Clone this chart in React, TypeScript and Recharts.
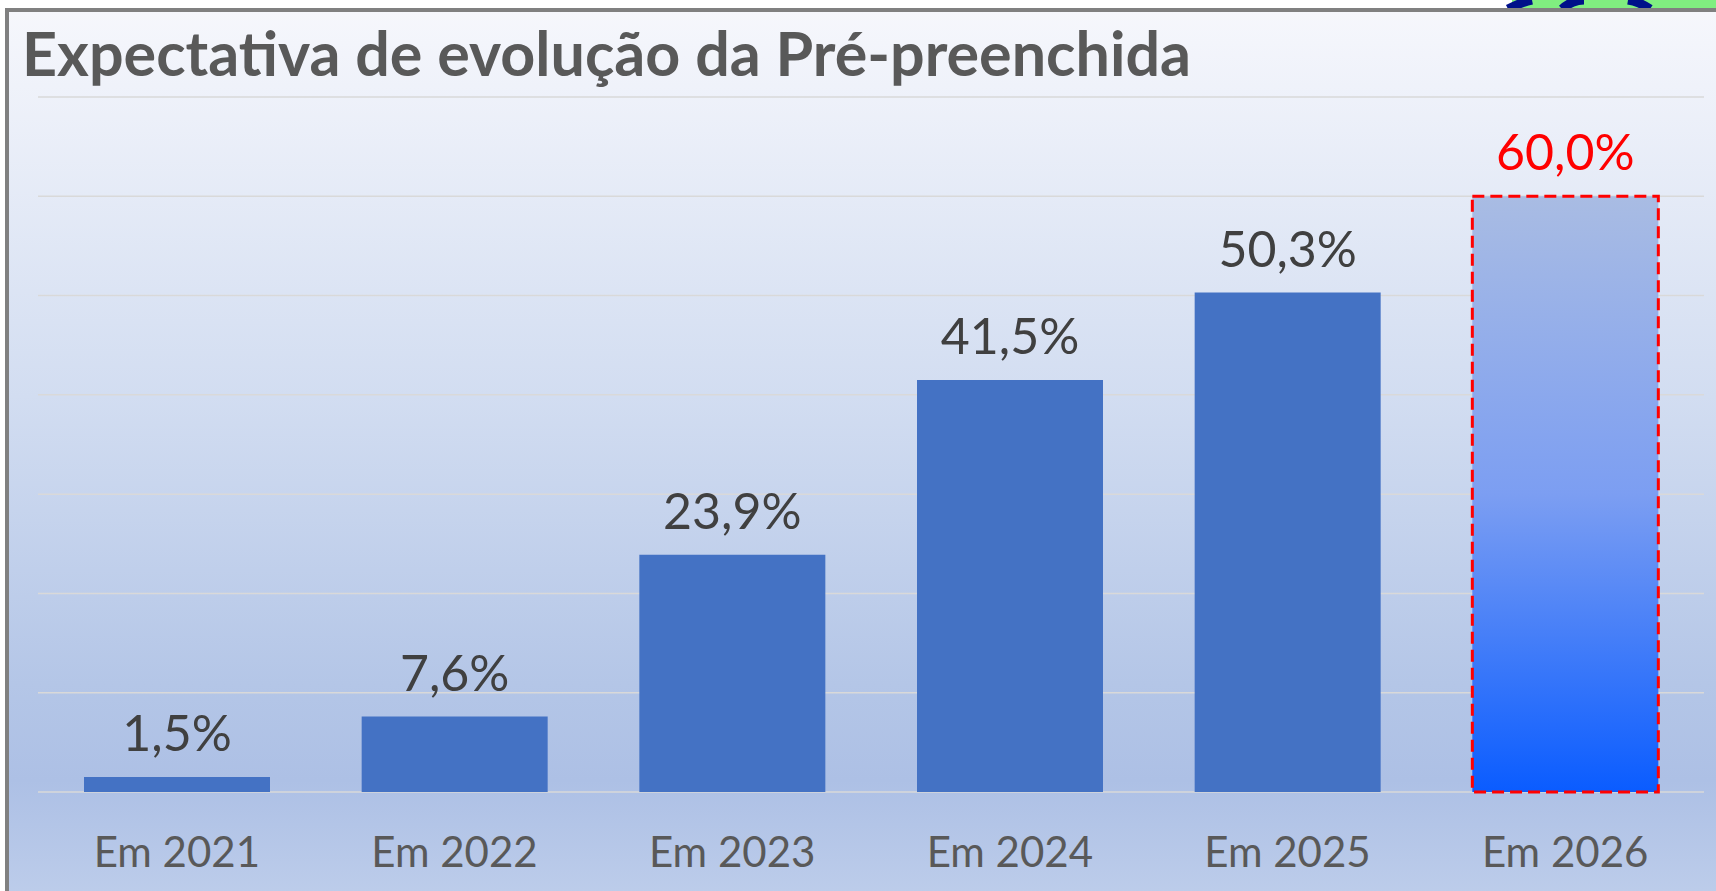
import React from "react"
import { Bar, BarChart, CartesianGrid, Cell, LabelList, XAxis, YAxis } from "recharts"

const categories = ["Em 2021", "Em 2022", "Em 2023", "Em 2024", "Em 2025", "Em 2026"]
const values = [1.5, 7.6, 23.9, 41.5, 50.3, 60.0]
const yTicks = [0, 10, 20, 30, 40, 50, 60, 70]

const data = categories.map((name, i) => ({ name, value: values[i] }))

const fmt = (v: number) => v.toFixed(1).replace(".", ",") + "%"

const FONT = "Lato, 'Open Sans', sans-serif"

function CategoryTick(props: any) {
  const { x, y, payload } = props
  return (
    <text x={x} y={y + 67} textAnchor="middle" fill="#595959" fontSize={42} fontFamily={FONT}>
      {payload.value}
    </text>
  )
}

function ValueLabel(props: any) {
  const { x, y, width, value, index } = props
  const last = index === values.length - 1
  return (
    <text
      x={x + width / 2}
      y={y - 26}
      textAnchor="middle"
      fill={last ? "#ff0000" : "#404040"}
      fontSize={50}
      fontFamily={FONT}
    >
      {fmt(value)}
    </text>
  )
}

export default function App() {
  return (
    <div style={{ position: "absolute", left: 0, top: 0, width: 1716, height: 891, overflow: "hidden", background: "#fff" }}>
      {/* logo fragment at the top */}
      <svg width={1716} height={12} style={{ position: "absolute", left: 0, top: 0 }}>
        <rect x={1512} y={0} width={204} height={9} fill="#80ee80" />
        <path d="M1508 9 Q1522 2 1532 0" stroke="#00108a" strokeWidth={9} fill="none" />
        <path d="M1562 9 Q1572 0 1584 0" stroke="#00108a" strokeWidth={9} fill="none" />
        <path d="M1628 0 Q1640 2 1650 9" stroke="#00108a" strokeWidth={9} fill="none" />
      </svg>
      <div
        style={{
          position: "absolute",
          left: 5,
          top: 8,
          width: 1740,
          height: 960,
          borderLeft: "4px solid #808080",
          borderTop: "4px solid #808080",
          background:
            "linear-gradient(to bottom, #f6f7fc 0%, #d2ddf1 40%, #b4c6e7 70%, #adc0e5 80%, #c7d5ee 100%)",
        }}
      />
      <svg width={1716} height={100} style={{ position: "absolute", left: 0, top: 0 }}>
        <text x={22} y={76} fill="#595959" fontSize={61} fontWeight={700} fontFamily={FONT}>
          Expectativa de evolução da Pré-preenchida
        </text>
      </svg>
      <div style={{ position: "absolute", left: 0, top: 0 }}>
        <BarChart width={1716} height={891} data={data} margin={{ top: 97, right: 12, bottom: 39, left: 38 }}>
          <defs>
            <linearGradient id="grad2026" x1="0" y1="0" x2="0" y2="1">
              <stop offset="0%" stopColor="#a9bce3" />
              <stop offset="50%" stopColor="#7c9ef2" />
              <stop offset="100%" stopColor="#0a5cff" />
            </linearGradient>
          </defs>
          <CartesianGrid vertical={false} stroke="#d9d9d9" strokeWidth={1.5} />
          <XAxis
            dataKey="name"
            axisLine={false}
            tickLine={false}
            height={60}
            tick={<CategoryTick />}
            interval={0}
          />
          <YAxis hide domain={[0, 70]} ticks={yTicks} />
          <Bar dataKey="value" barSize={186} fill="#4472c4" isAnimationActive={false}>
            {data.map((d, i) =>
              i === data.length - 1 ? (
                <Cell key={d.name} fill="url(#grad2026)" stroke="#ff0000" strokeWidth={3} strokeDasharray="12 6" />
              ) : (
                <Cell key={d.name} fill="#4472c4" />
              )
            )}
            <LabelList dataKey="value" content={<ValueLabel />} />
          </Bar>
        </BarChart>
      </div>
    </div>
  )
}
